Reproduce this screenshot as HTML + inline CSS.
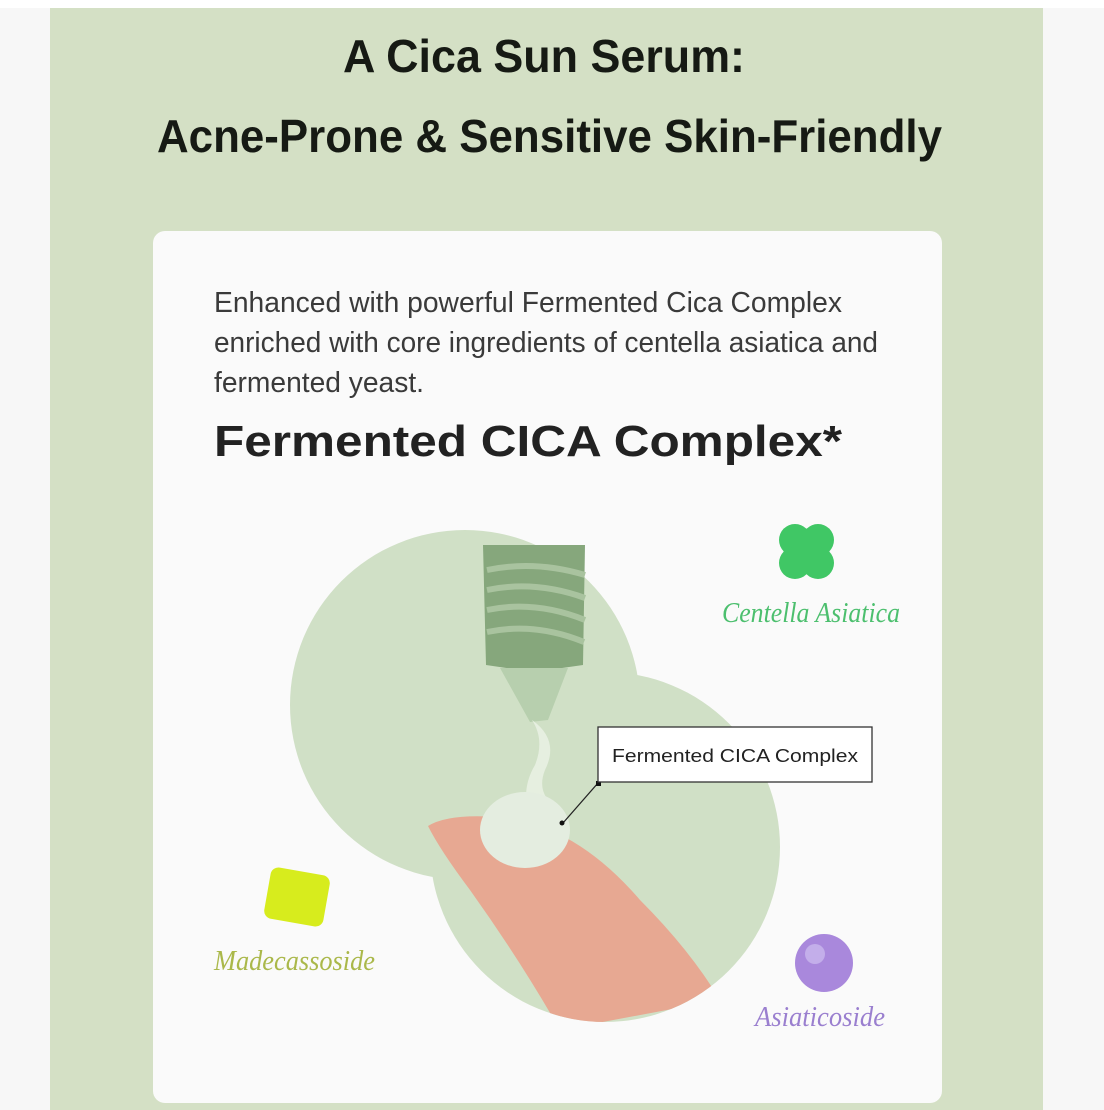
<!DOCTYPE html>
<html><head><meta charset="utf-8"><style>
html,body{margin:0;padding:0;background:#f7f7f7;}
svg{display:block}
</style></head><body>
<svg width="1104" height="1110" viewBox="0 0 1104 1110" xmlns="http://www.w3.org/2000/svg">
<defs>
<clipPath id="fc"><circle cx="605" cy="847" r="175"/><rect x="400" y="780" width="200" height="80"/></clipPath>
</defs>
<rect x="0" y="0" width="1104" height="1110" fill="#f7f7f7"/>
<rect x="0" y="0" width="1104" height="8" fill="#ffffff"/>
<rect x="50" y="8" width="993" height="1102" fill="#d4e0c5"/>
<text x="343" y="72" font-family="Liberation Sans, sans-serif" font-weight="bold" font-size="46" fill="#161a14" textLength="402" lengthAdjust="spacingAndGlyphs">A Cica Sun Serum:</text>
<text x="157" y="152" font-family="Liberation Sans, sans-serif" font-weight="bold" font-size="46" fill="#161a14" textLength="785" lengthAdjust="spacingAndGlyphs">Acne-Prone &amp; Sensitive Skin-Friendly</text>
<rect x="153" y="231" width="789" height="872" rx="12" fill="#fafafa"/>
<g font-family="Liberation Sans, sans-serif" font-size="29" fill="#3a3a3a">
<text x="214" y="312" textLength="628" lengthAdjust="spacingAndGlyphs">Enhanced with powerful Fermented Cica Complex</text>
<text x="214" y="352" textLength="664" lengthAdjust="spacingAndGlyphs">enriched with core ingredients of centella asiatica and</text>
<text x="214" y="392" textLength="210" lengthAdjust="spacingAndGlyphs">fermented yeast.</text>
</g>
<text x="214" y="456" font-family="Liberation Sans, sans-serif" font-weight="bold" font-size="44" fill="#222" textLength="628" lengthAdjust="spacingAndGlyphs">Fermented CICA Complex*</text>
<circle cx="465" cy="705" r="175" fill="#d0e0c6"/>
<circle cx="605" cy="847" r="175" fill="#d0e0c6"/>
<path d="M483 545 L585 545 L583 665 L548 670 L520 670 L486 665 Z" fill="#86a77c"/>
<g stroke="#a9c39f" stroke-width="6" fill="none">
<path d="M487 570 Q535 560 585 575"/><path d="M487 590 Q535 580 585 598"/><path d="M487 610 Q535 600 585 620"/><path d="M487 632 Q535 622 584 642"/>
</g>
<path d="M500 668 L568 668 L548 720 L530 722 Z" fill="#b7cfae"/>
<path d="M532 720 Q560 740 545 770 Q535 795 560 810 L530 820 Q520 790 535 765 Q545 740 532 720 Z" fill="#e6efe0"/>
<path clip-path="url(#fc)" d="M428 826 Q450 812 510 818 Q580 830 640 900 Q690 950 720 1000 L560 1030 Q520 960 470 890 Q440 850 428 826 Z" fill="#e7a892"/>
<ellipse cx="525" cy="830" rx="45" ry="38" fill="#e4ede0"/>
<line x1="598" y1="783" x2="563" y2="823" stroke="#222" stroke-width="1.3"/>
<rect x="596" y="781" width="5" height="5" fill="#111"/>
<circle cx="562" cy="823" r="2.5" fill="#111"/>
<rect x="598" y="727" width="274" height="55" fill="#fff" stroke="#333" stroke-width="1.3"/>
<text x="612" y="762" font-family="Liberation Sans, sans-serif" font-size="18" fill="#222" textLength="246" lengthAdjust="spacingAndGlyphs">Fermented CICA Complex</text>
<g fill="#40c765">
<circle cx="795" cy="540" r="16"/><circle cx="818" cy="540" r="16"/><circle cx="795" cy="563" r="16"/><circle cx="818" cy="563" r="16"/>
<rect x="792" y="537" width="29" height="29"/>
</g>
<rect x="267" y="871" width="60" height="52" rx="8" fill="#d7ec1d" transform="rotate(10 297 897)"/>
<circle cx="824" cy="963" r="29" fill="#a988dc"/>
<circle cx="815" cy="954" r="10" fill="#c3aeea"/>
<g font-family="Liberation Serif, serif" font-style="italic" font-size="28">
<text x="722" y="622" fill="#4cbf6e" textLength="178" lengthAdjust="spacingAndGlyphs">Centella Asiatica</text>
<text x="214" y="970" fill="#aab84a" textLength="161" lengthAdjust="spacingAndGlyphs">Madecassoside</text>
<text x="755" y="1026" fill="#9a7fcf" textLength="130" lengthAdjust="spacingAndGlyphs">Asiaticoside</text>
</g>
</svg>
</body></html>
